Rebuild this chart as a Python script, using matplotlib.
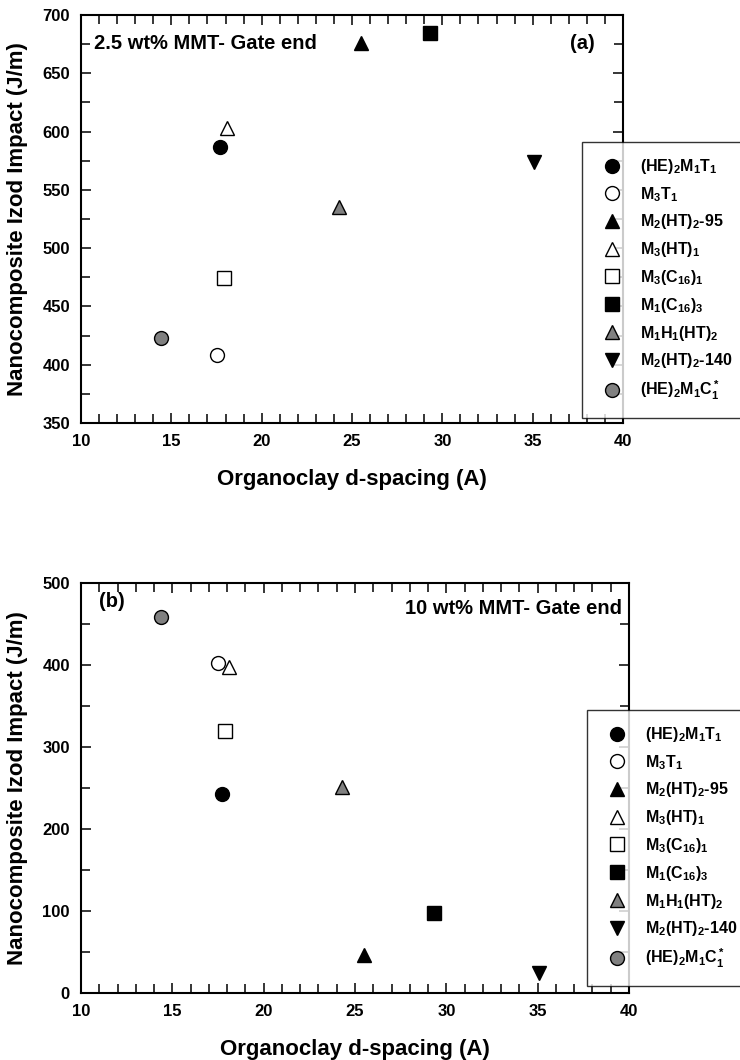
import matplotlib.pyplot as plt
from matplotlib.ticker import MultipleLocator

plt.rcParams['font.family'] = ['Liberation Sans', 'DejaVu Sans']
plt.rcParams['font.weight'] = 'bold'
plt.rcParams['mathtext.fontset'] = 'custom'
plt.rcParams['mathtext.rm'] = 'Liberation Sans:bold'
plt.rcParams['mathtext.it'] = 'Liberation Sans:bold'
plt.rcParams['mathtext.bf'] = 'Liberation Sans:bold'
plt.rcParams['mathtext.default'] = 'rm'

# === Data ===
names = [r'(HE)$_2$M$_1$T$_1$', r'M$_3$T$_1$', r'M$_2$(HT)$_2$-95', r'M$_3$(HT)$_1$',
         r'M$_3$(C$_{16}$)$_1$', r'M$_1$(C$_{16}$)$_3$', r'M$_1$H$_1$(HT)$_2$',
         r'M$_2$(HT)$_2$-140', r'(HE)$_2$M$_1$C$^*_1$']
d_spacing = [17.7, 17.5, 25.5, 18.1, 17.9, 29.3, 24.3, 35.1, 14.4]
impact_25 = [587, 408, 676, 603, 474, 685, 535, 574, 423]
impact_10 = [243, 402, 46, 397, 319, 97, 251, 24, 458]

markers = ['o', 'o', '^', '^', 's', 's', '^', 'v', 'o']
faces = ['black', 'white', 'black', 'white', 'white', 'black', 'grey', 'black', 'grey']

fig = plt.figure(figsize=(7.4, 10.6), dpi=100)
ax1 = fig.add_axes([0.1095, 0.6009, 0.7324, 0.3849])
ax2 = fig.add_axes([0.1095, 0.0632, 0.7405, 0.3868])


def draw(ax, yvals, ylim, major, minor, leg_anchor, ylab_x):
    for i in range(len(names)):
        ax.plot(d_spacing[i], yvals[i], linestyle='none', marker=markers[i],
                markersize=10, markerfacecolor=faces[i], markeredgecolor='black',
                markeredgewidth=1.0, label=names[i], clip_on=False)
    ax.set_xlim(10, 40)
    ax.set_ylim(*ylim)
    ax.xaxis.set_major_locator(MultipleLocator(5))
    ax.xaxis.set_minor_locator(MultipleLocator(1))
    ax.yaxis.set_major_locator(MultipleLocator(major))
    ax.yaxis.set_minor_locator(MultipleLocator(minor))
    ax.tick_params(which='both', direction='in', top=True, right=True, width=1.1,
                   labelsize=12)
    ax.tick_params(which='major', length=7.5, pad=8)
    ax.tick_params(which='minor', length=6.5)
    for s in ax.spines.values():
        s.set_linewidth(1.5)
    ax.set_xlabel('Organoclay d-spacing (A)', fontsize=16, fontweight='bold', labelpad=14)
    ax.set_ylabel('Nanocomposite Izod Impact (J/m)', fontsize=16, fontweight='bold')
    ax.yaxis.set_label_coords(ylab_x, 0.5)
    leg = ax.legend(loc='upper left', bbox_to_anchor=leg_anchor,
                    bbox_transform=fig.transFigure, frameon=True, fancybox=False,
                    edgecolor='black', fontsize=11.5, handletextpad=0.85,
                    labelspacing=0.55, borderpad=0.95, borderaxespad=0,
                    handlelength=1.85)
    leg.get_frame().set_linewidth(1.0)
    leg.set_zorder(5)


draw(ax1, impact_25, (350, 700), 50, 25, (582 / 740, 1 - 142 / 1060), -0.098)
ax1.text(0.024, 0.93, '2.5 wt% MMT- Gate end', transform=ax1.transAxes, fontsize=14.5,
         fontweight='bold', va='center', ha='left')
ax1.text(0.925, 0.93, '(a)', transform=ax1.transAxes, fontsize=14.5,
         fontweight='bold', va='center', ha='center')

draw(ax2, impact_10, (0, 500), 100, 50, (587 / 740, 1 - 710 / 1060), -0.097)
ax2.text(0.033, 0.954, '(b)', transform=ax2.transAxes, fontsize=14.5,
         fontweight='bold', va='center', ha='left')
ax2.text(0.988, 0.939, '10 wt% MMT- Gate end', transform=ax2.transAxes, fontsize=14.5,
         fontweight='bold', va='center', ha='right')

fig.savefig('out.png', dpi=100)
